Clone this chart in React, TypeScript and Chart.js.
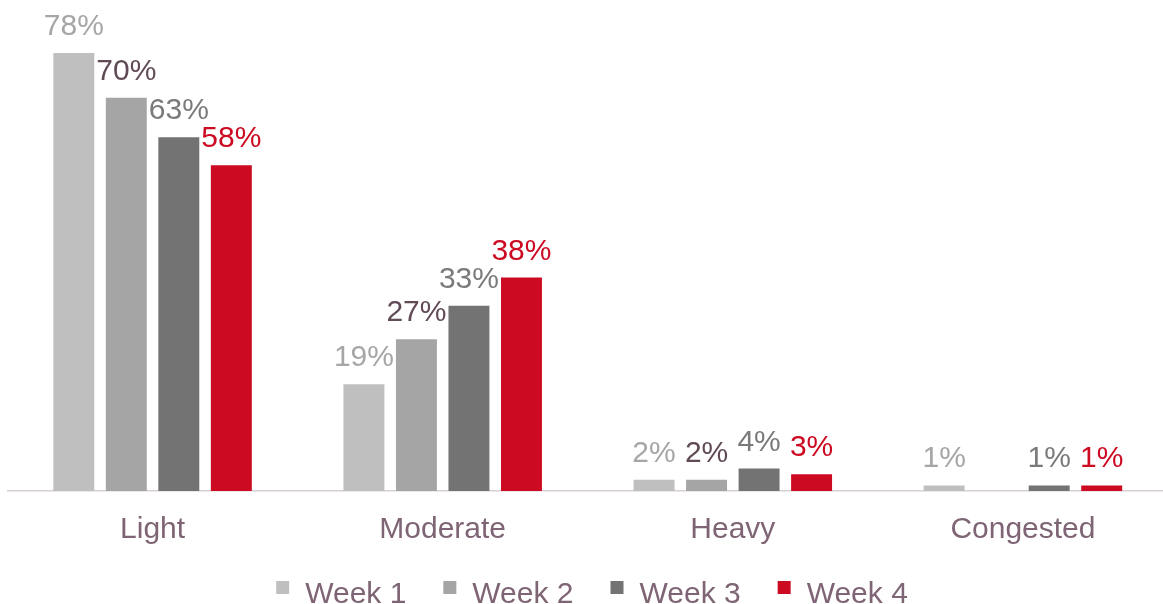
import React, { useEffect, useRef } from 'react';
import { Chart, registerables } from 'chart.js';

Chart.register(...registerables);

const categories = ['Light', 'Moderate', 'Heavy', 'Congested'];
const seriesNames = ['Week 1', 'Week 2', 'Week 3', 'Week 4'];
const week1 = [78, 19, 2, 1];
const week2 = [70, 27, 2, 0];
const week3 = [63, 33, 4, 1];
const week4 = [58, 38, 3, 1];
const seriesValues = [week1, week2, week3, week4];

const barColors = ['#BFBFBF', '#A5A5A5', '#737373', '#CC0A22'];
const labelColors = ['#A6A6A6', '#604A56', '#7A7A7A', '#CC0A22'];
const textColor = '#7E6474';
const FONT = '"Liberation Sans", Arial, sans-serif';

const valueLabels = {
  id: 'valueLabels',
  afterDatasetsDraw(chart: any) {
    const ctx = chart.ctx;
    ctx.save();
    ctx.font = `30px ${FONT}`;
    ctx.textAlign = 'center';
    ctx.textBaseline = 'alphabetic';
    chart.data.datasets.forEach((ds: any, i: number) => {
      const meta = chart.getDatasetMeta(i);
      ctx.fillStyle = labelColors[i];
      meta.data.forEach((el: any, j: number) => {
        const v = ds.data[j];
        if (!v) return;
        ctx.fillText(`${v}%`, el.x, el.y - 18);
      });
    });
    ctx.restore();
  },
};

const customLegend = {
  id: 'customLegend',
  afterDraw(chart: any) {
    const ctx = chart.ctx;
    ctx.save();
    ctx.font = `30px ${FONT}`;
    ctx.textBaseline = 'alphabetic';
    ctx.textAlign = 'left';
    const box = 13;
    const gapBoxText = 16;
    const gapItems = 37;
    const widths = chart.data.datasets.map(
      (ds: any) => box + gapBoxText + ctx.measureText(ds.label).width
    );
    const total = widths.reduce((a: number, b: number) => a + b, 0) + gapItems * (widths.length - 1);
    let x = 592 - total / 2;
    const baseline = 603;
    chart.data.datasets.forEach((ds: any, i: number) => {
      ctx.fillStyle = barColors[i];
      ctx.fillRect(x, 581, box, box);
      ctx.fillStyle = textColor;
      ctx.fillText(ds.label, x + box + gapBoxText, baseline);
      x += widths[i] + gapItems;
    });
    ctx.restore();
  },
};

export default function App() {
  const ref = useRef<HTMLCanvasElement | null>(null);

  useEffect(() => {
    if (!ref.current) return;
    const chart = new Chart(ref.current, {
      type: 'bar',
      data: {
        labels: categories,
        datasets: seriesNames.map((name, i) => ({
          label: name,
          data: seriesValues[i],
          backgroundColor: barColors[i],
          borderWidth: 0,
          barPercentage: 0.78,
          categoryPercentage: 0.724,
        })),
      },
      options: {
        responsive: false,
        animation: false,
        layout: { padding: { top: 8, left: 7.5, right: 0, bottom: 35 } },
        plugins: {
          legend: { display: false },
          tooltip: { enabled: false },
        },
        scales: {
          x: {
            grid: { display: false, drawTicks: false },
            border: { display: true, color: '#D9D0D4', width: 1.5 },
            ticks: {
              color: textColor,
              font: { size: 30, family: FONT },
              padding: 21,
              autoSkip: false,
              maxRotation: 0,
            },
          },
          y: {
            display: false,
            min: 0,
            max: 86,
          },
        },
      },
      plugins: [valueLabels, customLegend],
    });
    return () => chart.destroy();
  }, []);

  return (
    <div style={{ position: 'fixed', left: 0, top: 0, width: 1163, height: 604, overflow: 'hidden', background: '#fff' }}>
      <canvas ref={ref} width={1168} height={604} style={{ display: 'block' }} />
    </div>
  );
}
